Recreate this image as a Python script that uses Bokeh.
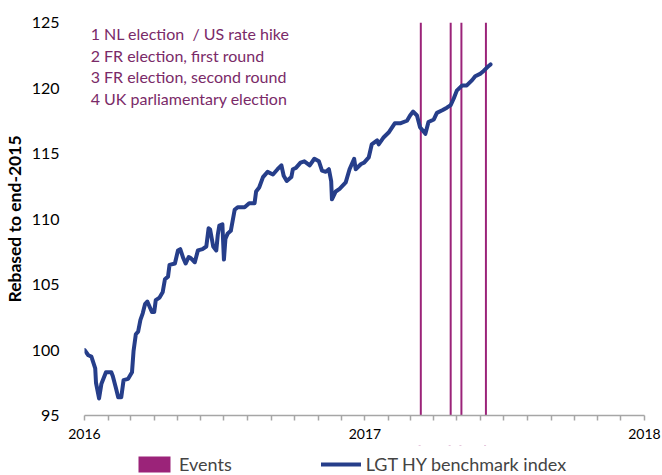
from datetime import datetime
from bokeh.plotting import figure
from bokeh.layouts import column
from bokeh.models import (ColumnDataSource, Range1d, FixedTicker, Legend, LegendItem,
                          Plot, VBar, Line)
from bokeh.core.properties import value
from bokeh.embed import file_html
from bokeh.resources import INLINE

# ---- data ----
index_dates = [
    "2016-01-01", "2016-01-06", "2016-01-10", "2016-01-15", "2016-01-16", "2016-01-20",
    "2016-01-23", "2016-01-29", "2016-02-05", "2016-02-07", "2016-02-11", "2016-02-14",
    "2016-02-18", "2016-02-21", "2016-02-27", "2016-03-03", "2016-03-05", "2016-03-08",
    "2016-03-11", "2016-03-14", "2016-03-17", "2016-03-20", "2016-03-23", "2016-03-26",
    "2016-03-29", "2016-04-01", "2016-04-03", "2016-04-08", "2016-04-12", "2016-04-15",
    "2016-04-19", "2016-04-21", "2016-04-28", "2016-05-02", "2016-05-05", "2016-05-09",
    "2016-05-12", "2016-05-16", "2016-05-19", "2016-05-24", "2016-05-28", "2016-06-03",
    "2016-06-08", "2016-06-11", "2016-06-13", "2016-06-17", "2016-06-21", "2016-06-23",
    "2016-06-25", "2016-06-29", "2016-07-01", "2016-07-03", "2016-07-06", "2016-07-10",
    "2016-07-15", "2016-07-19", "2016-07-28", "2016-08-03", "2016-08-10", "2016-08-12",
    "2016-08-16", "2016-08-21", "2016-08-27", "2016-09-03", "2016-09-09", "2016-09-14",
    "2016-09-17", "2016-09-21", "2016-09-27", "2016-09-29", "2016-10-03", "2016-10-09",
    "2016-10-14", "2016-10-21", "2016-10-27", "2016-11-02", "2016-11-06", "2016-11-11",
    "2016-11-15", "2016-11-18", "2016-11-19", "2016-11-24", "2016-11-29", "2016-12-07",
    "2016-12-12", "2016-12-18", "2016-12-20", "2016-12-27", "2016-12-31", "2017-01-06",
    "2017-01-10", "2017-01-17", "2017-01-19", "2017-01-25", "2017-02-01", "2017-02-09",
    "2017-02-16", "2017-02-25", "2017-03-01", "2017-03-05", "2017-03-10", "2017-03-14",
    "2017-03-21", "2017-03-25", "2017-04-01", "2017-04-05", "2017-04-12", "2017-04-18",
    "2017-04-23", "2017-04-27", "2017-05-01", "2017-05-08", "2017-05-14", "2017-05-21",
    "2017-05-25", "2017-06-01", "2017-06-05", "2017-06-10", "2017-06-14",
]
index_values = [
    100.0, 99.6, 99.5, 98.6, 97.5, 96.3,
    97.4, 98.3, 98.3, 98.0, 97.1, 96.4,
    96.4, 97.7, 97.8, 98.3, 99.9, 101.2,
    101.4, 102.3, 102.8, 103.5, 103.7, 103.3,
    102.9, 102.9, 103.8, 104.0, 104.4, 105.4,
    105.6, 106.5, 106.6, 107.6, 107.7, 107.0,
    106.6, 107.1, 107.0, 106.7, 107.6, 107.7,
    107.9, 109.3, 109.2, 107.9, 107.6, 108.8,
    109.5, 109.6, 106.9, 108.5, 108.9, 109.1,
    110.7, 110.9, 110.9, 111.2, 111.2, 112.1,
    112.4, 113.2, 113.6, 113.4, 113.8, 114.1,
    113.3, 112.9, 113.2, 113.8, 113.9, 114.3,
    114.4, 114.1, 114.6, 114.4, 113.7, 113.6,
    113.8, 112.9, 111.5, 112.1, 112.3, 112.8,
    113.8, 114.6, 113.8, 114.2, 114.3, 114.7,
    115.7, 116.0, 115.7, 116.2, 116.6, 117.3,
    117.3, 117.5, 117.9, 118.2, 117.9, 117.0,
    116.5, 117.4, 117.6, 118.1, 118.3, 118.5,
    118.7, 119.2, 119.8, 120.2, 120.2, 120.6,
    120.9, 121.1, 121.3, 121.6, 121.8,
]
event_dates = ["2017-03-15", "2017-04-23", "2017-05-07", "2017-06-08"]
event_notes = [
    "1 NL election\u00a0 / US rate hike",
    "2 FR election, first round",
    "3 FR election, second round",
    "4 UK parliamentary election",
]
year_ticks = ["2016-01-01", "2017-01-01", "2018-01-01"]
year_labels = ["2016", "2017", "2018"]
y_ticks = [95, 100, 105, 110, 115, 120, 125]
series_name = "LGT HY benchmark index"
event_name = "Events"
y_title = "Rebased to end-2015"

# ---- helpers ----
def ms(s):
    return datetime.strptime(s, "%Y-%m-%d").timestamp() * 1000.0

FONT = "Lato"
LINE_COLOR = "#263E8A"
EVENT_COLOR = "#9B2379"
NOTE_COLOR = "#7A2A68"
day_ms = 86400000.0

x_start, x_end = ms(year_ticks[0]), ms(year_ticks[-1])

ev_src = ColumnDataSource(dict(x=[ms(d) for d in event_dates],
                               top=[125] * len(event_dates),
                               bottom=[95] * len(event_dates)))
src = ColumnDataSource(dict(x=[ms(d) for d in index_dates], y=index_values))

ev_glyph = dict(x="x", top="top", bottom="bottom", width=2.6 * day_ms,
                fill_color=EVENT_COLOR, line_color=None)
ln_glyph = dict(x="x", y="y", line_color=LINE_COLOR, line_width=4,
                line_join="round", line_cap="round")

no_align = {}
if "frame_align" in Plot.properties():
    no_align = dict(frame_align=False)

# ---- main chart ----
p = figure(width=662, height=445, x_axis_type="datetime",
           output_backend="svg", toolbar_location=None,
           x_range=Range1d(x_start, x_end), y_range=Range1d(95, 125),
           min_border_left=81, min_border_right=18, min_border_top=22,
           min_border_bottom=30, **no_align)
p.outline_line_color = None
p.grid.grid_line_color = None
p.background_fill_color = "white"
p.border_fill_color = "white"

p.add_glyph(ev_src, VBar(**ev_glyph))
p.add_glyph(src, Line(**ln_glyph))

# annotation text
note_y = [124.15, 122.5, 120.85, 119.2]
note_src = ColumnDataSource(dict(x=[ms("2016-01-09")] * 4, y=note_y, t=event_notes))
p.text("x", "y", text="t", source=note_src, text_font=value(FONT),
       text_font_size="16px", text_color=NOTE_COLOR, text_baseline="middle",
       text_align="left")

# x axis: monthly ticks, year labels
month_ticks = []
for yy in (2016, 2017):
    for mm in range(1, 13):
        month_ticks.append(datetime(yy, mm, 1).timestamp() * 1000.0)
month_ticks.append(x_end)
xa = p.xaxis[0]
xa.ticker = FixedTicker(ticks=month_ticks)
overrides = {}
for t in month_ticks:
    overrides[t] = ""
for t, lab in zip(year_ticks, year_labels):
    overrides[ms(t)] = lab
xa.major_label_overrides = overrides
xa.axis_line_color = "#A6A6A6"
xa.axis_line_width = 1.5
xa.major_tick_line_color = "#A6A6A6"
xa.major_tick_line_width = 1.5
xa.major_tick_out = 5
xa.major_tick_in = 0
xa.minor_tick_line_color = None
xa.major_label_text_font = FONT
xa.major_label_text_font_size = "14px"
xa.major_label_text_color = "black"
xa.major_label_standoff = 8

ya = p.yaxis[0]
ya.ticker = FixedTicker(ticks=y_ticks)
ya.axis_line_color = None
ya.major_tick_line_color = None
ya.minor_tick_line_color = None
ya.major_label_text_font = FONT
ya.major_label_text_font_size = "16px"
ya.major_label_text_color = "black"
ya.major_label_standoff = 19
ya.axis_label = y_title
ya.axis_label_text_font = FONT
ya.axis_label_text_font_size = "17.5px"
ya.axis_label_text_font_style = "bold"
ya.axis_label_text_color = "black"
ya.axis_label_standoff = 4

# ---- legend strip (same marks, out of view; only the legend shows) ----
pl = Plot(width=662, height=30, output_backend="svg", toolbar_location=None,
          x_range=Range1d(x_start, x_end), y_range=Range1d(0, 1),
          min_border=0, min_border_left=81, min_border_right=18,
          min_border_top=0, min_border_bottom=0,
          outline_line_color=None, background_fill_color="white",
          border_fill_color="white", **no_align)
lev = pl.add_glyph(ev_src, VBar(**ev_glyph))
lln = pl.add_glyph(src, Line(**ln_glyph))

legend = Legend(items=[LegendItem(label=event_name, renderers=[lev]),
                       LegendItem(label=series_name, renderers=[lln])],
                location=(53, 0), orientation="horizontal",
                padding=0, margin=0, spacing=89, border_line_color=None,
                background_fill_alpha=0, label_text_font=FONT,
                label_text_font_size="18px", label_standoff=5,
                glyph_width=40, glyph_height=20, label_height=20)
pl.add_layout(legend)

layout = column(p, pl, spacing=0)
open("out.html", "w").write(file_html(layout, INLINE))
